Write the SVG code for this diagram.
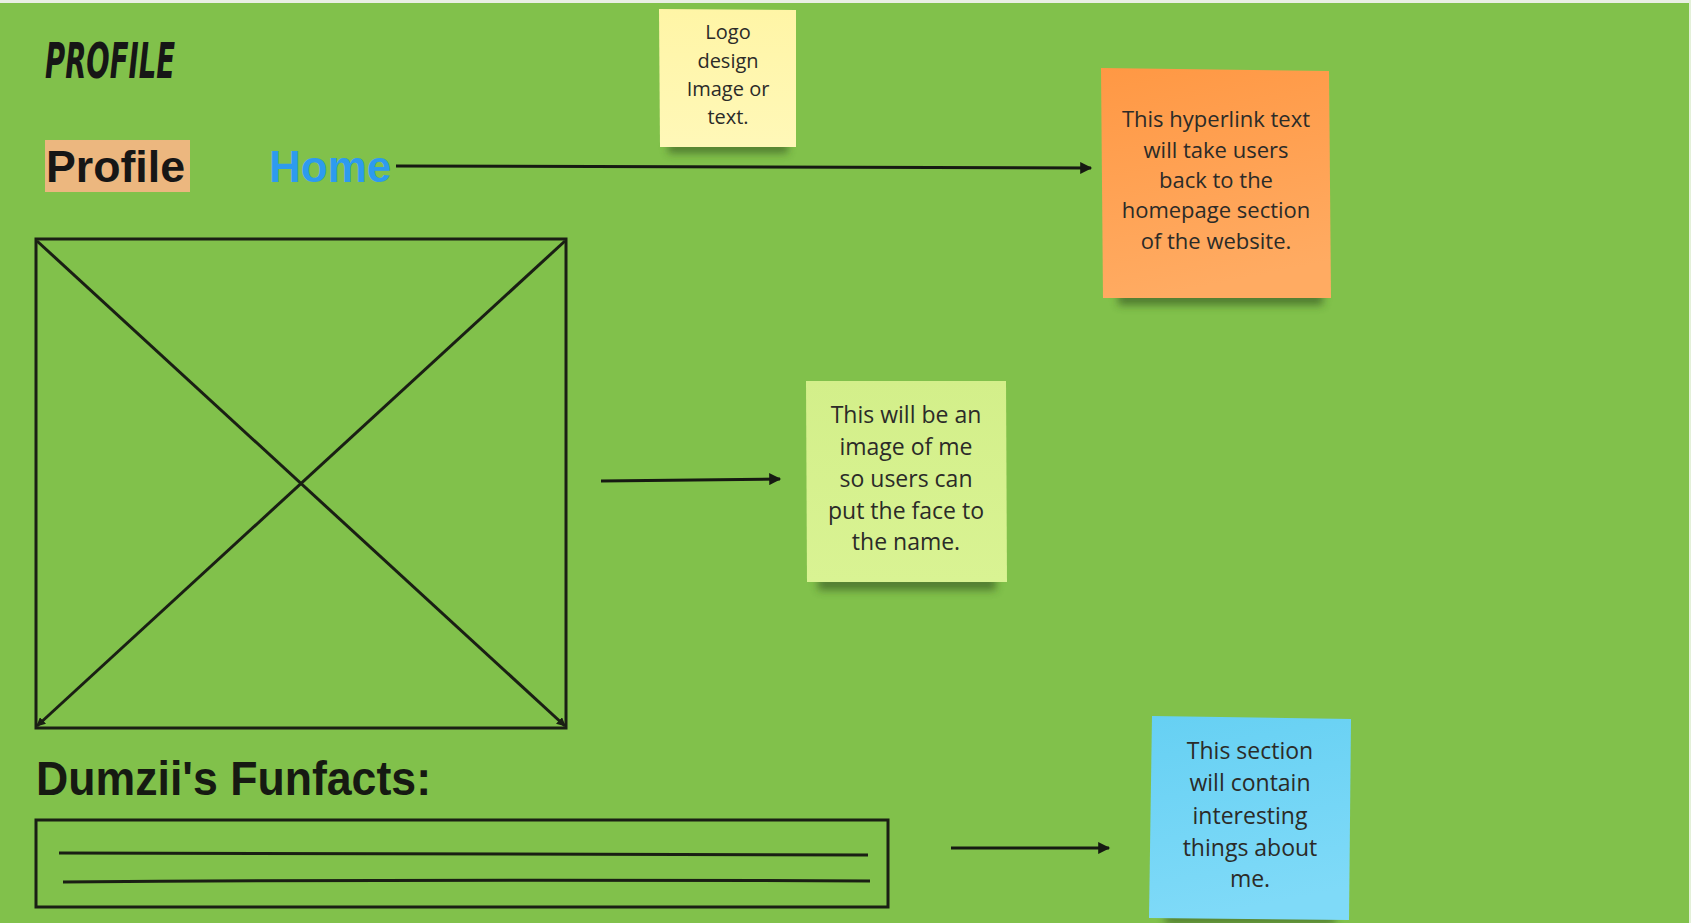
<svg xmlns="http://www.w3.org/2000/svg" width="1691" height="923" viewBox="0 0 1691 923">
<defs>
<style>
.sticky-text{font-family:"Open Sans","Noto Sans",sans-serif;fill:#2b2b28;text-anchor:middle;}
.wire{fill:none;stroke:#1a1f14;stroke-width:3;}
.conn{fill:none;stroke:#161a12;stroke-width:3;}
.shadow{fill:#2f4a1a;opacity:0.6;filter:url(#blur);}
</style>
<filter id="blur" x="-20%" y="-100%" width="140%" height="300%"><feGaussianBlur stdDeviation="4.5"/></filter>
<marker id="arrow" viewBox="0 0 10 10" refX="9" refY="5" markerWidth="4.5" markerHeight="4" orient="auto" markerUnits="strokeWidth">
<path d="M0,0 L10,5 L0,10 z" fill="#161a12"/>
</marker>
<marker id="tiny" viewBox="0 0 10 10" refX="9" refY="5" markerWidth="3" markerHeight="3" orient="auto" markerUnits="strokeWidth">
<path d="M0,0 L10,5 L0,10 z" fill="#1a1f14"/>
</marker>
<linearGradient id="gYellow" x1="0" y1="0" x2="0" y2="1"><stop offset="0" stop-color="#fff5a6"/><stop offset="1" stop-color="#fff8b8"/></linearGradient>
<linearGradient id="gOrange" x1="0" y1="0" x2="0.2" y2="1"><stop offset="0" stop-color="#ff9844"/><stop offset="1" stop-color="#ffab62"/></linearGradient>
<linearGradient id="gGreen" x1="0" y1="0" x2="0" y2="1"><stop offset="0" stop-color="#d3ef8a"/><stop offset="1" stop-color="#d9f393"/></linearGradient>
<linearGradient id="gBlue" x1="0" y1="0" x2="0.2" y2="1"><stop offset="0" stop-color="#66d0f3"/><stop offset="1" stop-color="#7fdaf8"/></linearGradient>
</defs>
<rect x="0" y="0" width="1691" height="923" fill="#81c14b"/>
<rect x="0" y="0" width="1691" height="3" fill="#e9efe4"/>
<rect x="1689" y="0" width="2" height="923" fill="#e3f0d8"/>

<g id="title">
<text x="45" y="78" font-family="DejaVu Sans" font-weight="bold" font-style="italic" font-stretch="condensed" font-size="50" textLength="130" lengthAdjust="spacingAndGlyphs" fill="#161616">PROFILE</text>
</g>

<g id="nav-profile">
<rect x="45" y="140" width="145" height="52" fill="#ecb77f"/>
<text x="46" y="182" font-family="Liberation Sans" font-weight="bold" font-size="44" textLength="139" lengthAdjust="spacingAndGlyphs" fill="#161616">Profile</text>
</g>

<g id="nav-home">
<text x="269" y="182" font-family="Liberation Sans" font-weight="bold" font-size="44" fill="#2d9bef">Home</text>
</g>

<g id="image-placeholder">
<rect x="36" y="239" width="530" height="489" class="wire"/>
<line x1="37" y1="241" x2="565" y2="726" class="wire" stroke-width="2.5" marker-end="url(#tiny)"/>
<line x1="565" y1="241" x2="37" y2="726" class="wire" stroke-width="2.5" marker-end="url(#tiny)"/>
</g>

<g id="funfacts-heading">
<text x="36" y="795" font-family="Liberation Sans" font-weight="bold" font-size="49" textLength="395" lengthAdjust="spacingAndGlyphs" fill="#161a12">Dumzii's Funfacts:</text>
</g>

<g id="funfacts-box">
<rect x="36" y="820" width="852" height="87" class="wire"/>
<line x1="59" y1="853" x2="868" y2="855" class="wire" stroke-width="2.8"/>
<path d="M63,882 Q450,879 870,881" class="wire" stroke-width="2.8"/>
</g>

<g id="connectors">
<line x1="396" y1="166" x2="1091" y2="168" class="conn" marker-end="url(#arrow)"/>
<line x1="601" y1="481" x2="780" y2="479" class="conn" marker-end="url(#arrow)"/>
<line x1="951" y1="848" x2="1109" y2="848" class="conn" marker-end="url(#arrow)"/>
</g>

<g id="sticky-logo">
<rect x="668" y="142" width="120" height="11" class="shadow"/>
<polygon points="659,9 796,10 796,147 660,147" fill="url(#gYellow)"/>
<text class="sticky-text" font-size="20"><tspan x="728" y="39">Logo</tspan><tspan x="728" y="68">design</tspan><tspan x="728" y="96">Image or</tspan><tspan x="728" y="124">text.</tspan></text>
</g>

<g id="sticky-home">
<rect x="1118" y="292" width="205" height="13" class="shadow"/>
<polygon points="1101,68 1329,71 1331,298 1103,298" fill="url(#gOrange)"/>
<text class="sticky-text" font-size="22"><tspan x="1216" y="127">This hyperlink text</tspan><tspan x="1216" y="158">will take users</tspan><tspan x="1216" y="188">back to the</tspan><tspan x="1216" y="218">homepage section</tspan><tspan x="1216" y="249">of the website.</tspan></text>
</g>

<g id="sticky-image">
<rect x="818" y="577" width="178" height="13" class="shadow"/>
<polygon points="806,381 1006,381 1007,582 807,582" fill="url(#gGreen)"/>
<text class="sticky-text" font-size="23"><tspan x="906" y="423">This will be an</tspan><tspan x="906" y="455">image of me</tspan><tspan x="906" y="487">so users can</tspan><tspan x="906" y="519">put the face to</tspan><tspan x="906" y="550">the name.</tspan></text>
</g>

<g id="sticky-funfacts">
<rect x="1165" y="914" width="170" height="10" class="shadow"/>
<polygon points="1152,716 1351,719 1349,920 1149,918" fill="url(#gBlue)"/>
<text class="sticky-text" font-size="23"><tspan x="1250" y="759">This section</tspan><tspan x="1250" y="791">will contain</tspan><tspan x="1250" y="824">interesting</tspan><tspan x="1250" y="856">things about</tspan><tspan x="1250" y="887">me.</tspan></text>
</g>
</svg>
